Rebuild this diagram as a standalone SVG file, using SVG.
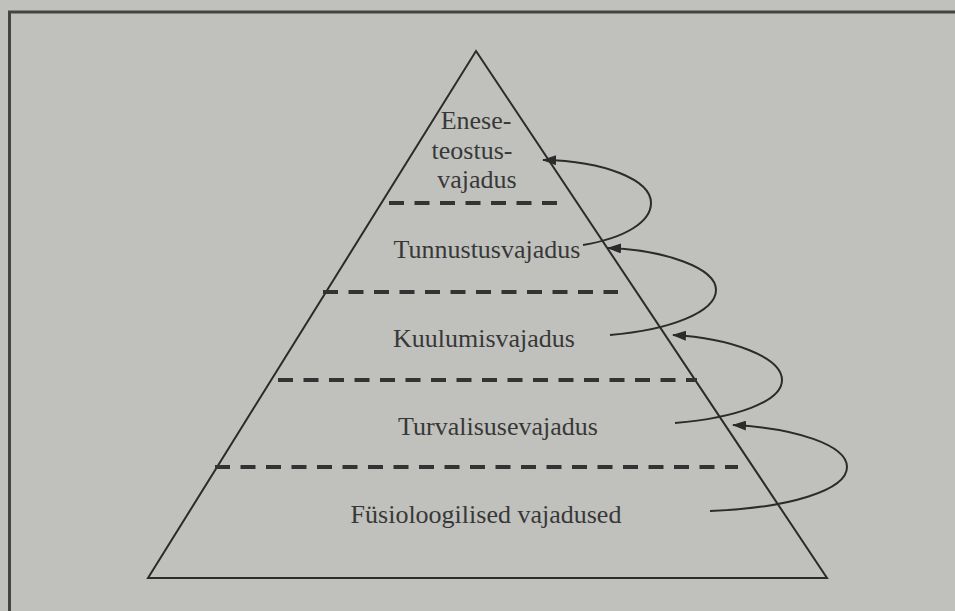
<svg xmlns="http://www.w3.org/2000/svg" width="955" height="611" viewBox="0 0 955 611">
<defs>
<style>
.lbl{font-family:"Liberation Serif","Times New Roman",serif;font-size:26px;fill:#383838;text-anchor:middle}
.edge{fill:none;stroke:#2b2b2b;stroke-width:2}
.dash{fill:none;stroke:#333;stroke-width:4;stroke-dasharray:15 10.5}
.arc{fill:none;stroke:#2b2b2b;stroke-width:2;marker-end:url(#ah)}
</style>
<marker id="ah" viewBox="0 0 14 10" refX="13" refY="5" markerWidth="14" markerHeight="10" markerUnits="userSpaceOnUse" orient="auto">
<path d="M0,0 L14,5 L0,10 z" fill="#2b2b2b"/>
</marker>
</defs>
<rect width="955" height="611" fill="#c0c1bd"/>
<path d="M9.5,611 L9.5,12 L955,12" fill="none" stroke="#444" stroke-width="3"/>
<g id="pyramid">
<path class="edge" d="M476,51 L827,578 L148,578 Z"/>
</g>
<g id="dividers">
<line class="dash" x1="389" y1="203" x2="557" y2="203"/>
<line class="dash" x1="323" y1="292" x2="618" y2="292"/>
<line class="dash" x1="278" y1="380" x2="697" y2="380"/>
<line class="dash" x1="215" y1="467" x2="738" y2="467"/>
</g>
<g id="level5"><text class="lbl" x="476" y="129">Enese-</text><text class="lbl" x="472" y="159">teostus-</text><text class="lbl" x="477" y="188">vajadus</text></g>
<g id="level4"><text class="lbl" x="487" y="258">Tunnustusvajadus</text></g>
<g id="level3"><text class="lbl" x="484" y="347">Kuulumisvajadus</text></g>
<g id="level2"><text class="lbl" x="498" y="435">Turvalisusevajadus</text></g>
<g id="level1"><text class="lbl" x="486" y="523">Füsioloogilised vajadused</text></g>
<g id="connectors">
<path class="arc" d="M583,245 C625,238 651,222 651,203 C651,180 605,161 543,160"/>
<path class="arc" d="M610,335 C670,330 716,312 716,290 C716,268 665,250 608,248"/>
<path class="arc" d="M675,423 C735,418 782,402 782,380 C782,357 730,338 673,335"/>
<path class="arc" d="M710,511 C790,508 847,490 847,467 C847,445 795,428 733,425"/>
</g>
</svg>
